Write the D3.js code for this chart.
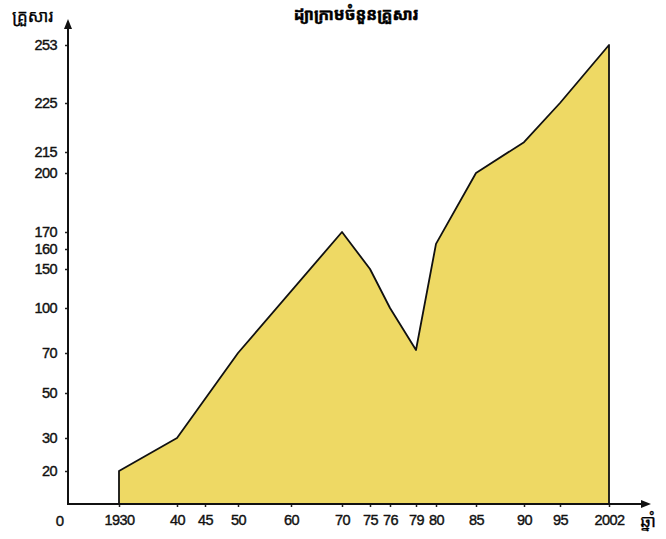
<!DOCTYPE html>
<html>
<head>
<meta charset="utf-8">
<script src="https://cdn.jsdelivr.net/npm/d3@7"></script>
<style>
  body { margin: 0; background: #fff; }
  text { font-family: "Liberation Sans", Arial, sans-serif; }
  .km { font-family: "Noto Sans Khmer", "Khmer OS", "Noto Sans", sans-serif; }
</style>
</head>
<body>
<svg></svg>
<script>
const width = 666, height = 539;

// data
const years = [1930, 1940, 1950, 1970, 1975, 1976, 1979, 1980, 1985, 1990, 1995, 2002];
const families = [20, 30, 70, 170, 150, 100, 72, 163, 200, 217, 225, 253];
const xTickYears = [1930, 1940, 1945, 1950, 1960, 1970, 1975, 1976, 1979, 1980, 1985, 1990, 1995, 2002];
const xTickLabels = ["1930", "40", "45", "50", "60", "70", "75", "76", "79", "80", "85", "90", "95", "2002"];
const yTicks = [20, 30, 50, 70, 100, 150, 160, 170, 200, 215, 225, 253];

const title = "ដ្យាក្រាមចំនួនគ្រួសារ",
    yLabel = "គ្រួសារ",
    xLabel = "ឆ្នាំ";

const svg = d3.select("svg").attr("width", width).attr("height", height);

// the original axes are hand spaced, so both scales are piecewise
const x = d3.scaleLinear()
    .domain([1920, 1930, 1940, 1945, 1950, 1960, 1970, 1975, 1976, 1979, 1980, 1985, 1990, 1995, 2002])
    .range([68, 119, 177, 205, 238, 291, 342, 370, 390, 416, 436, 476, 524, 560, 609]);

const y = d3.scaleLinear()
    .domain([0, 20, 30, 50, 70, 100, 150, 160, 170, 200, 215, 225, 253])
    .range([504, 471, 438, 393, 353, 308, 269, 249, 232, 173, 152, 103, 45]);

const data = years.map((d, i) => ({year: d, value: families[i]}));

const area = d3.area()
    .x(d => x(d.year))
    .y0(y(0))
    .y1(d => y(d.value));

svg.append("path")
    .datum(data)
    .attr("d", area)
    .attr("fill", "#eed964")
    .attr("stroke", "#111")
    .attr("stroke-width", 1.8)
    .attr("stroke-linejoin", "round");

// axes
const xAxis = d3.axisBottom(x)
    .tickValues(xTickYears)
    .tickFormat((d, i) => xTickLabels[i])
    .tickSize(3)
    .tickPadding(8);

const yAxis = d3.axisLeft(y)
    .tickValues(yTicks)
    .tickSize(3)
    .tickPadding(8);

const gx = svg.append("g").attr("transform", `translate(0,${y(0)})`).call(xAxis);
const gy = svg.append("g").attr("transform", `translate(${x(1920)},0)`).call(yAxis);

[gx, gy].forEach(g => {
    g.select(".domain").remove();
    g.selectAll(".tick line").attr("stroke", "#222").attr("stroke-width", 1.5);
    g.selectAll(".tick text")
        .attr("font-size", 14.5)
        .attr("fill", "#111")
        .attr("stroke", "#111")
        .attr("stroke-width", 0.4)
        .style("font-family", "'Liberation Sans', Arial, sans-serif")
        .attr("letter-spacing", "-0.6");
});

// axis lines with arrow heads
svg.append("line")
    .attr("x1", x(1920)).attr("y1", y(0))
    .attr("x2", 645).attr("y2", y(0))
    .attr("stroke", "#111").attr("stroke-width", 2);
svg.append("path")
    .attr("d", `M651,${y(0)} L641,${y(0) - 4} L641,${y(0) + 4} Z`)
    .attr("fill", "#111");

svg.append("line")
    .attr("x1", x(1920)).attr("y1", y(0) + 1)
    .attr("x2", x(1920)).attr("y2", 26)
    .attr("stroke", "#111").attr("stroke-width", 2);
svg.append("path")
    .attr("d", `M${x(1920)},19 L${x(1920) - 4},29 L${x(1920) + 4},29 Z`)
    .attr("fill", "#111");

// origin label
svg.append("text")
    .attr("x", 60).attr("y", y(0) + 22)
    .attr("text-anchor", "middle")
    .attr("font-size", 15)
    .attr("fill", "#111")
    .attr("stroke", "#111")
    .attr("stroke-width", 0.4)
    .text("0");

// labels
svg.append("text")
    .attr("class", "km")
    .attr("x", 356).attr("y", 20)
    .attr("text-anchor", "middle")
    .attr("font-size", 16)
    .attr("font-weight", "bold")
    .attr("stroke", "#000")
    .attr("stroke-width", 0.5)
    .text(title);

svg.append("text")
    .attr("class", "km")
    .attr("x", 12).attr("y", 22)
    .attr("font-size", 17)
    .attr("stroke", "#000")
    .attr("stroke-width", 0.3)
    .text(yLabel);

svg.append("text")
    .attr("class", "km")
    .attr("x", 648).attr("y", 527)
    .attr("text-anchor", "middle")
    .attr("font-size", 17)
    .attr("stroke", "#000")
    .attr("stroke-width", 0.3)
    .text(xLabel);
</script>
</body>
</html>
